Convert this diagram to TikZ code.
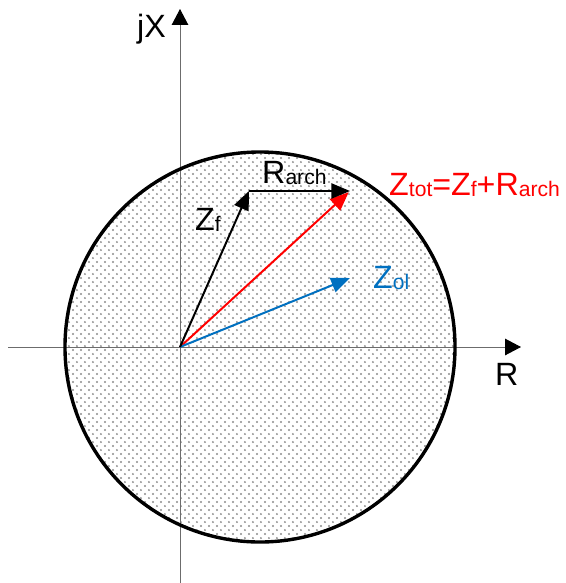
\documentclass[tikz,border=0pt]{standalone}
\usepackage{fontspec}
\setmainfont{Liberation Sans}
\usetikzlibrary{arrows.meta,patterns.meta}
\definecolor{olblue}{RGB}{0,112,192}
\tikzdeclarepattern{name=stipple, type=uncolored,
  bottom left={(0pt,0pt)}, top right={(6.8pt,6.8pt)}, tile size={(6.8pt,6.8pt)},
  code={\fill (1.7pt,1.7pt) circle (0.9pt); \fill (5.1pt,5.1pt) circle (0.9pt);}}
\newcommand{\lo}[1]{\raisebox{-1.5pt}{\fontsize{18}{20}\selectfont #1}}

\begin{document}
\begin{tikzpicture}[x=0.03cm, y=-0.03cm, font=\fontsize{27.5}{32}\selectfont,
                    ax/.style={line width=0.8pt, gray!85!black,
                               -{Triangle[length=13.5pt, width=14pt, color=black]}},
                    vec/.style={line width=1.7pt, line join=round,
                                -{Triangle[length=16pt, width=13pt]}},
                    lbl/.style={anchor=base west, inner sep=0pt}]
  \fill[white] (0,0) rectangle (566,583);
  \useasboundingbox (0,0) rectangle (566,583);
  \coordinate (C) at (260,347);
  \coordinate (O) at (180,347);
  \coordinate (zf) at (249,191);
  \coordinate (tot) at (350,191);
  \coordinate (zol) at (350,278);
  \coordinate (xl) at (8,347);
  \coordinate (xr) at (521,347);
  \coordinate (yb) at (180,583);
  \coordinate (yt) at (180,9);
  % disc
  \fill[pattern=stipple, pattern color=gray!90] (C) circle (5.85cm);
  \draw[ax] (xl) -- (xr);
  \draw[ax] (yb) -- (yt);
  \draw[line width=2.9pt] (C) circle (5.85cm);
  % vectors
  \draw[vec, red, shorten >=1.5pt] (O) -- (tot);
  \draw[vec, olblue] (O) -- (zol);
  \draw[vec] (O) -- (zf);
  \draw[vec] (zf) -- (tot);
  % labels
  \node[lbl] (jx) at (137,37) {jX};
  \node[lbl] (rlab) at (495,385) {R};
  \node[lbl] (rarch) at (262,183) {R\lo{arch}};
  \node[lbl] (zflab) at (195,230) {Z\lo{f}};
  \node[lbl, red] (ztot) at (389,195) {Z\lo{tot}=Z\lo{f}+R\lo{arch}};
  \node[lbl, olblue] (zollab) at (373,288) {Z\lo{ol}};
\end{tikzpicture}
\end{document}
